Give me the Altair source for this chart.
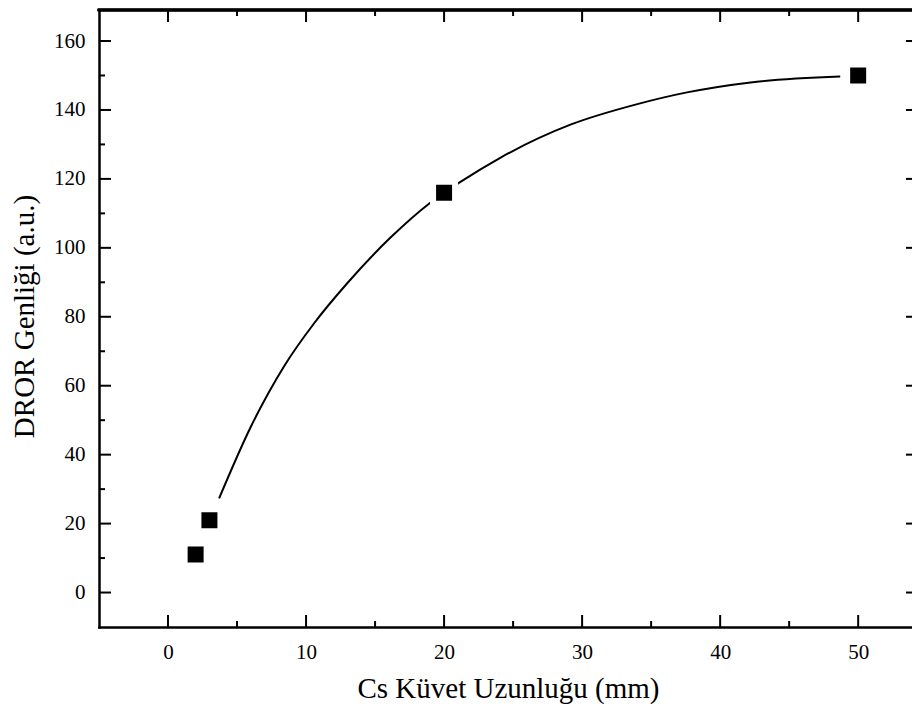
import altair as alt
import pandas as pd

# Measured points
x_points = [2, 3, 20, 50]
y_points = [11, 21, 116, 150]

# Fitted curve
fit_x = [3.7, 6.0, 8.4, 10.6, 13.0, 16.1, 19.0, 21.1, 24.1, 29.2, 34.0, 37.6, 42.2, 48.7]
fit_y = [27.3, 48.1, 65.6, 78.2, 89.8, 102.9, 113.1, 118.9, 126.2, 135.8, 141.7, 145.1, 148.0, 149.7]

# Tick values
x_major = [0, 10, 20, 30, 40, 50]
x_minor = [5, 15, 25, 35, 45]
y_major = [0, 20, 40, 60, 80, 100, 120, 140, 160]
y_minor = [10, 30, 50, 70, 90, 110, 130, 150]

x_title = "Cs Küvet Uzunluğu (mm)"
y_title = "DROR Genliği (a.u.)"

W, H = 813, 617
FONT = "Liberation Serif"

pts = pd.DataFrame({"x": x_points, "y": y_points})
fit = pd.DataFrame({"x": fit_x, "y": fit_y})
dx_maj = pd.DataFrame({"x": x_major})
dx_min = pd.DataFrame({"x": x_minor})
dy_maj = pd.DataFrame({"y": y_major})
dy_min = pd.DataFrame({"y": y_minor})

xs = alt.Scale(domain=[-5, 53.9], nice=False, zero=False)
ys = alt.Scale(domain=[-10, 169], nice=False, zero=False)

x_axis = alt.Axis(
    values=x_major, tickSize=0, grid=False,
    domainColor="black", domainWidth=2.5, domainCap="square",
    labelFont=FONT, labelFontSize=21, labelColor="black", labelPadding=14,
    title=x_title, titleFont=FONT, titleFontSize=29, titleFontWeight="normal",
    titleColor="black", titleBaseline="alphabetic", titleAlign="center",
    titleX=409, titleY=70,
)
y_axis = alt.Axis(
    values=y_major, tickSize=0, grid=False,
    domainColor="black", domainWidth=2.5, domainCap="square",
    labelFont=FONT, labelFontSize=21, labelColor="black", labelPadding=14,
    title=y_title, titleFont=FONT, titleFontSize=29, titleFontWeight="normal",
    titleColor="black", titleBaseline="alphabetic", titleAlign="center",
    titleAngle=270, titleX=-65.5, titleY=306,
)

X = alt.X("x:Q", scale=xs, axis=x_axis)
Y = alt.Y("y:Q", scale=ys, axis=y_axis)

line = alt.Chart(fit).mark_line(color="black", strokeWidth=2, interpolate="monotone").encode(x=X, y=Y)

points = alt.Chart(pts).mark_point(
    shape="square", fill="black", fillOpacity=1, stroke="white",
    strokeWidth=6, strokeOpacity=1, opacity=1, size=484,
).encode(x=X, y=Y)

tick_style = dict(color="black", strokeWidth=2)

bottom_major = alt.Chart(dx_maj).mark_rule(**tick_style).encode(
    x=X, y=alt.value(H), y2=alt.value(H - 12))
bottom_minor = alt.Chart(dx_min).mark_rule(**tick_style).encode(
    x=X, y=alt.value(H), y2=alt.value(H - 6))
top_major = alt.Chart(dx_maj).mark_rule(**tick_style).encode(
    x=X, y=alt.value(0), y2=alt.value(12))
top_minor = alt.Chart(dx_min).mark_rule(**tick_style).encode(
    x=X, y=alt.value(0), y2=alt.value(6))
left_major = alt.Chart(dy_maj).mark_rule(**tick_style).encode(
    y=Y, x=alt.value(0), x2=alt.value(12))
left_minor = alt.Chart(dy_min).mark_rule(**tick_style).encode(
    y=Y, x=alt.value(0), x2=alt.value(6))
right_major = alt.Chart(dy_maj).mark_rule(**tick_style).encode(
    y=Y, x=alt.value(W - 6), x2=alt.value(W))

top_line = alt.Chart(dx_maj).mark_rule(color="black", strokeWidth=2.5, strokeCap="square").encode(
    x=alt.value(0), x2=alt.value(W), y=alt.value(0))

chart = alt.layer(
    line, bottom_major, bottom_minor, top_major, top_minor,
    left_major, left_minor, right_major, top_line, points,
).properties(
    width=W, height=H,
    padding={"left": 91, "top": 2, "right": 0, "bottom": 77},
    autosize=alt.AutoSizeParams(type="none"),
).configure_view(
    stroke=None
).configure_axis(
    labelFont=FONT, titleFont=FONT
)

chart.save("out.html", embed_options={"renderer": "svg", "actions": False})
